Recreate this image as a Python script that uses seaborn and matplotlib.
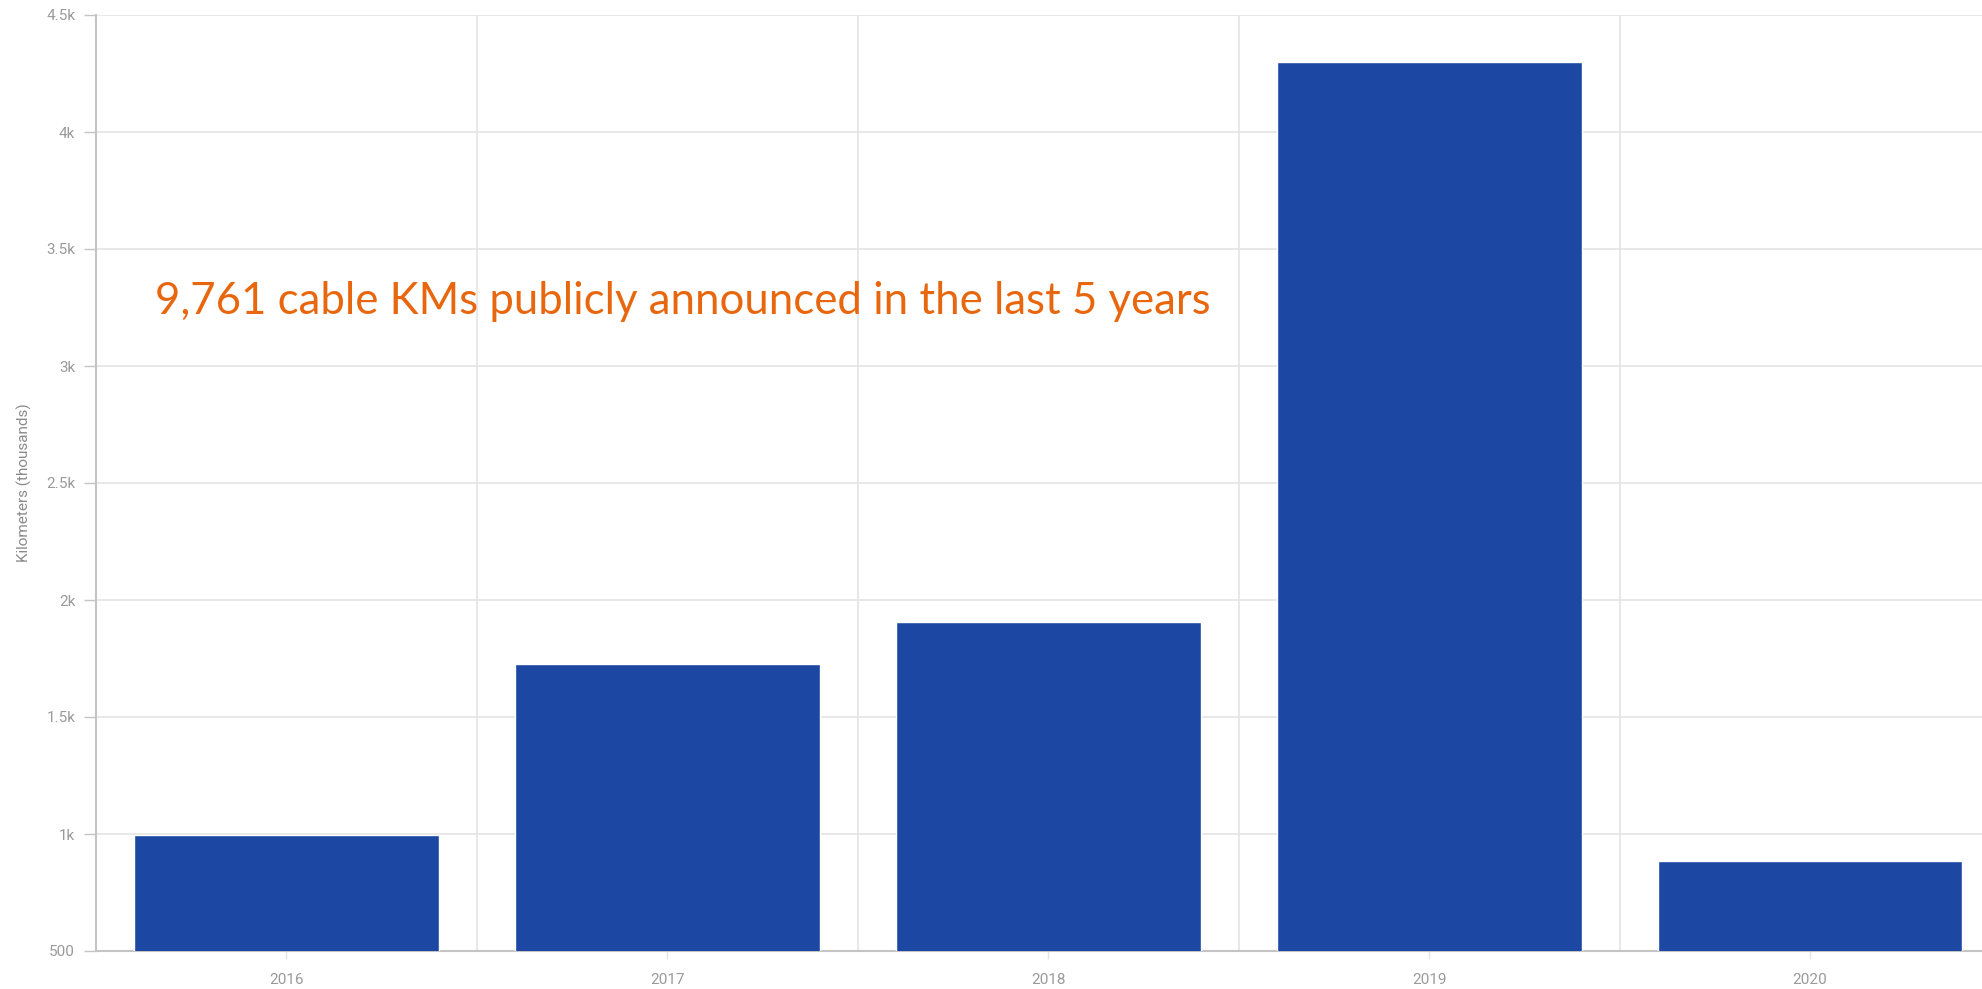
import matplotlib
matplotlib.use("Agg")
import matplotlib.pyplot as plt
import seaborn as sns
import pandas as pd

# data
years = ["2016", "2017", "2018", "2019", "2020"]
km = [995, 1725, 1905, 4300, 886]
ytick_vals = [500, 1000, 1500, 2000, 2500, 3000, 3500, 4000, 4500]
ytick_labels = ["500", "1k", "1.5k", "2k", "2.5k", "3k", "3.5k", "4k", "4.5k"]
note = "9,761 cable KMs publicly announced in the last 5 years"

bar_color = "#1c48a3"
grid_color = "#e4e4e4"
axis_color = "#c4c4c4"
label_color = "#9a9a9a"

sns.set_theme(style="white")
plt.rcParams["font.family"] = ["Roboto", "DejaVu Sans"]

df = pd.DataFrame({"year": years, "km": km})

fig = plt.figure(figsize=(19.83, 9.89), dpi=100)
ax = fig.add_axes([96 / 1983, 1 - 951 / 989, 1 - 96 / 1983, (951 - 15) / 989])

sns.barplot(data=df, x="year", y="km", color=bar_color, saturation=1,
            width=0.8, ax=ax, zorder=3)

ax.set_xlim(-0.5, 4.454)
ax.set_ylim(500, 4500)
ax.set_yticks(ytick_vals)
ax.set_yticklabels(ytick_labels)

# vertical grid lines sit between the categories
ax.set_xticks([0.5, 1.5, 2.5, 3.5], minor=True)
ax.grid(True, axis="y", which="major", color=grid_color, linewidth=1.2, zorder=0)
ax.grid(True, axis="x", which="minor", color=grid_color, linewidth=1.2, zorder=0)
ax.grid(False, axis="x", which="major")

ax.tick_params(axis="y", which="major", length=9, width=1, color=axis_color,
               labelsize=11, labelcolor=label_color, pad=6, left=True)
ax.tick_params(axis="x", which="major", length=6, width=1, color=grid_color,
               labelsize=11, labelcolor=label_color, pad=10, bottom=True)
ax.tick_params(axis="x", which="minor", length=0)

for side in ["top", "right"]:
    ax.spines[side].set_visible(False)
ax.spines["left"].set_color(axis_color)
ax.spines["left"].set_linewidth(1.5)
ax.spines["bottom"].set_color(axis_color)
ax.spines["bottom"].set_linewidth(1.5)

ax.set_xlabel("")
ax.set_ylabel("Kilometers (thousands)", fontsize=11, color="#8a8a8a", labelpad=10)

ax.text(155 / 1983, 1 - 314 / 989, note, transform=fig.transFigure,
        fontsize=31.5, color="#e8670e", family=["Lato", "DejaVu Sans"],
        ha="left", va="baseline", zorder=5)

fig.savefig("out.png", dpi=100)
